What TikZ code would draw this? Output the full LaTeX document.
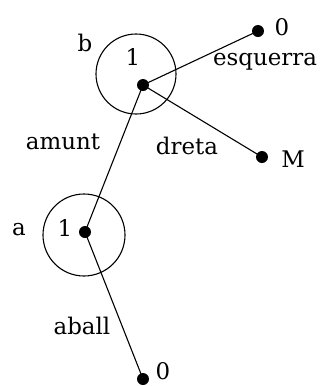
\documentclass[tikz,border=0pt]{standalone}
\usepackage{fontspec}
\setmainfont{DejaVu Serif}
\begin{document}
\begin{tikzpicture}[x=1bp,y=-1bp,
  lbl/.style={inner sep=0pt,font=\fontsize{23}{25}\selectfont},
  dotn/.style={circle,fill=black,inner sep=0pt,minimum size=12bp},
  ring/.style={circle,draw=black,line width=1.1bp,inner sep=0pt,minimum size=80bp},
  edge/.style={draw=black,line width=1.1bp}]
\useasboundingbox (0,0) rectangle (322,386);
% circles
\node[ring] (cb) at (136,74) {};
\node[ring,minimum size=82bp] (ca) at (84,235) {};
% dots
\node[dotn] (b) at (143,85) {};
\node[dotn] (a) at (85,232) {};
\node[dotn] (t0) at (258,31) {};
\node[dotn] (m) at (262,157) {};
\node[dotn] (b0) at (143,379) {};
% edges
\path[edge] (b.center) -- (t0.center);
\path[edge] (b.center) -- (m.center);
\path[edge] (b.center) -- (a.center);
\path[edge] (a.center) -- (b0.center);
% labels
\node[lbl] (lb) at (85,43) {b};
\node[lbl] (l1b) at (133,57) {1};
\node[lbl] (lt0) at (282,27) {0};
\node[lbl] (lesq) at (265,62) {esquerra};
\node[lbl] (lm) at (293,159) {M};
\node[lbl] (lam) at (63,142) {amunt};
\node[lbl] (ldr) at (187,146) {dreta};
\node[lbl] (la) at (19,230) {a};
\node[lbl] (l1a) at (65,228) {1};
\node[lbl] (lab) at (82,326) {aball};
\node[lbl] (lb0) at (163,371) {0};
\end{tikzpicture}
\end{document}
